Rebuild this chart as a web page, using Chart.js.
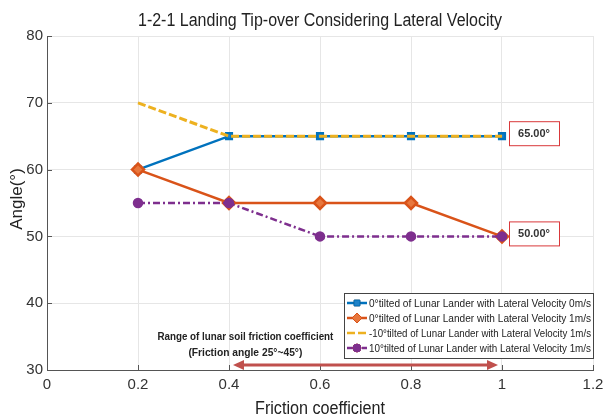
<!DOCTYPE html>
<html>
<head>
<meta charset="utf-8">
<script src="https://cdn.jsdelivr.net/npm/chart.js"></script>
<style>
html, body { margin: 0; padding: 0; background: #fff; }
#wrap { width: 604px; height: 419px; }
</style>
</head>
<body>
<div id="wrap"><canvas id="tipChart" width="604" height="419"></canvas></div>
<script>
// friction coefficient on x, tip-over angle (deg) on y
var friction = [0.2, 0.4, 0.6, 0.8, 1.0];
var tilt0Vel0 = [60, 65, 65, 65, 65];
var tilt0Vel1 = [60, 55, 55, 55, 50];
var tiltM10Vel1 = [70, 65, 65, 65, 65];
var tilt10Vel1 = [55, 55, 50, 50, 50];

var xTickLabels = ['0', '0.2', '0.4', '0.6', '0.8', '1', '1.2'];
var yTickLabels = ['30', '40', '50', '60', '70', '80'];

var seriesNames = [
    '0°tilted of Lunar Lander with Lateral Velocity 0m/s',
    '0°tilted of Lunar Lander with Lateral Velocity 1m/s',
    '-10°tilted of Lunar Lander with Lateral Velocity 1m/s',
    '10°tilted of Lunar Lander with Lateral Velocity 1m/s'
];

var boxValues = [65, 50];
var boxLabels = ['65.00°', '50.00°'];
var rangeFrom = 0.4, rangeTo = 1.0;

function pts(ys) {
    return friction.map(function (x, i) { return { x: x, y: ys[i] }; });
}

var ctx = document.getElementById('tipChart').getContext('2d');

var overlay = {
    id: 'overlay',
    afterDraw: function (chart) {
        var c = chart.ctx, a = chart.chartArea;
        var xs = chart.scales.x, ys = chart.scales.y;
        c.save();

        // inward ticks (matlab style)
        c.strokeStyle = '#555';
        c.lineWidth = 1;
        xs.ticks.forEach(function (t) {
            var px = Math.round(xs.getPixelForValue(t.value)) + 0.5;
            c.beginPath(); c.moveTo(px, a.bottom); c.lineTo(px, a.bottom - 5); c.stroke();
        });
        ys.ticks.forEach(function (t) {
            var py = Math.round(ys.getPixelForValue(t.value)) + 0.5;
            c.beginPath(); c.moveTo(a.left, py); c.lineTo(a.left + 5, py); c.stroke();
        });

        // title + axis titles
        c.fillStyle = '#222';
        c.textAlign = 'center';
        c.textBaseline = 'middle';
        var mid = (a.left + a.right) / 2;
        c.font = '18px "Liberation Sans", Arial, sans-serif';
        c.fillText('1-2-1 Landing Tip-over Considering Lateral Velocity', mid, 21, 364);
        c.fillText('Friction coefficient', mid, 409, 130);
        c.save();
        c.translate(17, (a.top + a.bottom) / 2 - 4);
        c.rotate(-Math.PI / 2);
        c.font = '17px "Liberation Sans", Arial, sans-serif';
        c.fillText('Angle(°)', 0, 0);
        c.restore();

        // value boxes
        c.font = 'bold 11px "Liberation Sans Narrow", "Liberation Sans", sans-serif';
        boxValues.forEach(function (v, i) {
            var bx = xs.getPixelForValue(1.0) + 7;
            var by = ys.getPixelForValue(v) - 3;
            c.fillStyle = '#fff';
            c.fillRect(bx, by - 12, 50, 24);
            c.strokeStyle = '#d9383a';
            c.lineWidth = 1;
            c.strokeRect(bx + 0.5, by - 11.5, 50, 24);
            c.fillStyle = '#333';
            c.fillText(boxLabels[i], bx + 25, by + 1);
        });

        // range arrow
        var ax1 = xs.getPixelForValue(rangeFrom) + 4;
        var ax2 = xs.getPixelForValue(rangeTo) - 4;
        var ay = a.bottom - 5;
        c.strokeStyle = '#c0504d';
        c.fillStyle = '#c0504d';
        c.lineWidth = 3;
        c.beginPath(); c.moveTo(ax1 + 8, ay); c.lineTo(ax2 - 8, ay); c.stroke();
        c.beginPath(); c.moveTo(ax1, ay); c.lineTo(ax1 + 11, ay - 5); c.lineTo(ax1 + 11, ay + 5); c.closePath(); c.fill();
        c.beginPath(); c.moveTo(ax2, ay); c.lineTo(ax2 - 11, ay - 5); c.lineTo(ax2 - 11, ay + 5); c.closePath(); c.fill();

        c.fillStyle = '#222';
        c.font = 'bold 11px "Liberation Sans Narrow", "Liberation Sans", sans-serif';
        var rx = xs.getPixelForValue(0.436);
        c.fillText('Range of lunar soil friction coefficient', rx, a.bottom - 33, 176);
        c.fillText('(Friction angle 25°~45°)', rx, a.bottom - 17, 114);

        // legend
        var lw = 249, lh = 65;
        var lx = a.right - lw, ly = a.bottom - 12 - lh;
        c.fillStyle = '#fff';
        c.fillRect(lx, ly, lw, lh);
        c.strokeStyle = '#444';
        c.lineWidth = 1;
        c.strokeRect(lx + 0.5, ly + 0.5, lw, lh);
        c.textAlign = 'left';
        c.font = '11px "Liberation Sans Narrow", "Liberation Sans", sans-serif';
        chart.data.datasets.forEach(function (ds, i) {
            var ry = ly + 10 + i * 15;
            c.save();
            c.strokeStyle = ds.borderColor;
            c.lineWidth = 2.5;
            c.setLineDash(ds.borderDash || []);
            c.beginPath(); c.moveTo(lx + 3, ry); c.lineTo(lx + 23, ry); c.stroke();
            c.restore();
            if (ds.pointRadius > 0) {
                Chart.helpers.drawPoint(c, {
                    pointStyle: ds.pointStyle,
                    radius: Math.min(ds.pointRadius, 5),
                    borderWidth: 1,
                    rotation: 0
                }, lx + 13, ry);
                c.fillStyle = ds.pointBackgroundColor;
                c.strokeStyle = ds.pointBorderColor;
                c.lineWidth = 1;
                c.fill();
                c.stroke();
            }
            c.fillStyle = '#222';
            c.fillText(seriesNames[i], lx + 25, ry + 1, 222);
        });
        c.restore();
    }
};

var tipChart = new Chart(ctx, {
    type: 'line',
    data: {
        datasets: [{
            label: seriesNames[0],
            data: pts(tilt0Vel0),
            borderColor: '#0072BD',
            borderWidth: 2.5,
            pointStyle: 'rect',
            pointRadius: 4,
            pointBackgroundColor: '#1f82c8',
            pointBorderColor: '#0072BD',
            order: 3
        }, {
            label: seriesNames[1],
            data: pts(tilt0Vel1),
            borderColor: '#D95319',
            borderWidth: 2.5,
            pointStyle: 'rectRot',
            pointRadius: 6,
            pointBackgroundColor: '#e8773d',
            pointBorderColor: '#D95319',
            order: 2
        }, {
            label: seriesNames[2],
            data: pts(tiltM10Vel1),
            borderColor: '#EDB120',
            borderWidth: 3,
            borderDash: [8, 3],
            pointRadius: 0,
            order: 1
        }, {
            label: seriesNames[3],
            data: pts(tilt10Vel1),
            borderColor: '#7E2F8E',
            borderWidth: 2.5,
            borderDash: [7, 3, 2, 3],
            pointStyle: 'circle',
            pointRadius: 4,
            pointBackgroundColor: '#7E2F8E',
            pointBorderColor: '#7E2F8E',
            order: 0
        }]
    },
    options: {
        responsive: false,
        animation: false,
        devicePixelRatio: 1,
        layout: { padding: { top: 36, right: 11, left: 0, bottom: 0 } },
        plugins: {
            legend: { display: false },
            title: { display: false },
            tooltip: { enabled: false }
        },
        scales: {
            x: {
                type: 'linear',
                min: 0, max: 1.2,
                ticks: {
                    stepSize: 0.2,
                    color: '#333',
                    padding: 6,
                    font: { size: 15, family: '"Liberation Sans", Arial, sans-serif' },
                    callback: function (v, i) { return xTickLabels[i]; }
                },
                grid: { color: '#e6e6e6', drawTicks: false },
                border: { color: '#555', width: 1 },
                afterFit: function (s) { s.height = 49; s.paddingLeft = 0; s.paddingRight = 0; }
            },
            y: {
                min: 30, max: 80,
                ticks: {
                    stepSize: 10,
                    color: '#333',
                    padding: 4,
                    font: { size: 15, family: '"Liberation Sans", Arial, sans-serif' },
                    callback: function (v, i) { return yTickLabels[i]; }
                },
                grid: { color: '#e6e6e6', drawTicks: false },
                border: { color: '#555', width: 1 },
                afterFit: function (s) { s.width = 47; s.paddingTop = 0; s.paddingBottom = 0; }
            }
        }
    },
    plugins: [overlay]
});
</script>
</body>
</html>
